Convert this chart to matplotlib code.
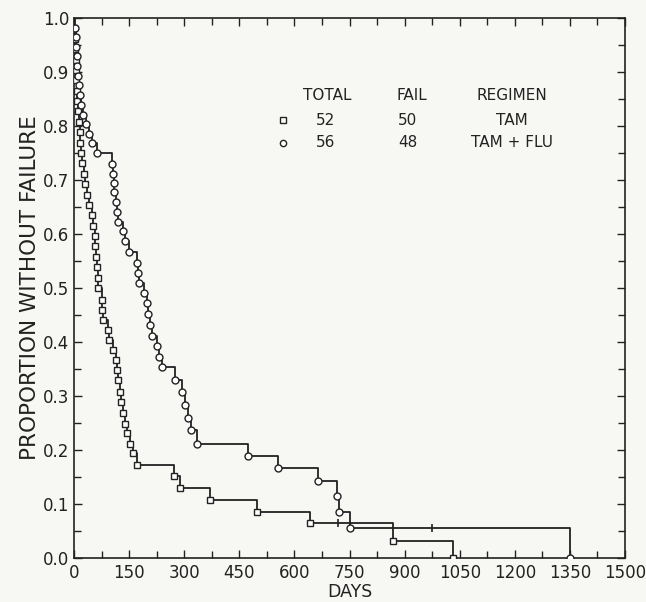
import matplotlib.pyplot as plt
from matplotlib.ticker import MultipleLocator

# TAM (squares): day of each failure and proportion without failure after it
tam_days = [1, 2, 3, 4, 5, 6, 8, 9, 11, 13, 15, 17, 20, 23, 27, 31, 36, 42, 48, 53,
            56, 58, 60, 62, 64, 66, 75, 77, 80, 93, 95, 107, 114, 116, 121, 125, 128,
            134, 139, 143, 152, 161, 171, 273, 289, 370, 497, 643, 868, 1033]
tam_surv = [0.981, 0.962, 0.942, 0.923, 0.904, 0.885, 0.865, 0.846, 0.827, 0.808,
            0.788, 0.769, 0.750, 0.731, 0.712, 0.692, 0.673, 0.654, 0.635, 0.615,
            0.596, 0.577, 0.558, 0.538, 0.519, 0.500, 0.478, 0.459, 0.441, 0.422,
            0.404, 0.385, 0.367, 0.348, 0.330, 0.308, 0.289, 0.268, 0.249, 0.231,
            0.212, 0.194, 0.172, 0.151, 0.129, 0.107, 0.086, 0.064, 0.031, 0.0]

# TAM + FLU (circles)
flu_days = [2, 4, 5, 7, 9, 11, 13, 16, 20, 25, 32, 40, 50, 62, 103, 107, 109, 110,
            114, 116, 121, 134, 139, 151, 172, 173, 178, 191, 200, 202, 207, 213, 225,
            231, 239, 275, 295, 302, 310, 318, 334, 473, 554, 663, 717, 721, 750, 1350]
flu_surv = [0.982, 0.964, 0.946, 0.929, 0.911, 0.893, 0.875, 0.857, 0.839, 0.821,
            0.804, 0.786, 0.768, 0.750, 0.730, 0.712, 0.695, 0.678, 0.660, 0.641,
            0.623, 0.605, 0.587, 0.567, 0.547, 0.527, 0.509, 0.490, 0.472, 0.451,
            0.431, 0.411, 0.393, 0.373, 0.354, 0.330, 0.308, 0.283, 0.259, 0.237,
            0.212, 0.189, 0.166, 0.142, 0.114, 0.086, 0.056, 0.0]

# censored observations (tick marks)
tam_cens = ([718], [0.064])
flu_cens = ([974], [0.056])

legend_rows = [('s', '52', '50', 'TAM'), ('o', '56', '48', 'TAM + FLU')]

bg = '#f7f7f4'
fig = plt.figure(figsize=(6.46, 6.02), dpi=100, facecolor=bg)
ax = fig.add_axes([0.1146, 0.0731, 0.8529, 0.897], facecolor=bg)

for days, surv, mk in [(tam_days, tam_surv, 's'), (flu_days, flu_surv, 'o')]:
    ax.step([0] + days, [1.0] + surv, where='post', color='#222222', lw=1.3)
    ax.plot(days, surv, mk, mfc='white', mec='#222222', mew=1.0, ms=5, ls='none', zorder=3)

for cx, cy in [tam_cens, flu_cens]:
    ax.plot(cx, cy, '|', color='#222222', ms=6, mew=1.2)

ax.set_xlim(0, 1500)
ax.set_ylim(0, 1.0)
ax.xaxis.set_major_locator(MultipleLocator(150))
ax.xaxis.set_minor_locator(MultipleLocator(75))
ax.yaxis.set_major_locator(MultipleLocator(0.1))
ax.yaxis.set_minor_locator(MultipleLocator(0.05))
ax.set_yticklabels(['%.1f' % v for v in ax.get_yticks()])
ax.tick_params(which='both', direction='in', top=True, right=True, width=1.0,
               color='#222222', labelsize=12, labelcolor='#222222')
ax.tick_params(which='major', length=6)
ax.tick_params(which='minor', length=5)
ax.tick_params(axis='x', pad=4)
for s in ax.spines.values():
    s.set_linewidth(1.2)
    s.set_color('#222222')

ax.set_xlabel('DAYS', fontsize=12.5, color='#222222', labelpad=1)
ax.set_ylabel('PROPORTION WITHOUT FAILURE', fontsize=15.5, color='#222222', labelpad=2)

# legend table
tkw = dict(transform=ax.transAxes, ha='center', va='center', fontsize=11, color='#222222')
ax.text(0.459, 0.857, 'TOTAL', **tkw)
ax.text(0.613, 0.857, 'FAIL', **tkw)
ax.text(0.795, 0.857, 'REGIMEN', **tkw)
for (mk, tot, fail, reg), yy in zip(legend_rows, [0.811, 0.769]):
    ax.plot([0.379], [yy], mk, transform=ax.transAxes, mfc='white', mec='#222222',
            mew=1.0, ms=4.5)
    ax.text(0.457, yy, tot, **tkw)
    ax.text(0.606, yy, fail, **tkw)
    ax.text(0.795, yy, reg, **tkw)

fig.savefig('out.png', dpi=100, facecolor=bg)
